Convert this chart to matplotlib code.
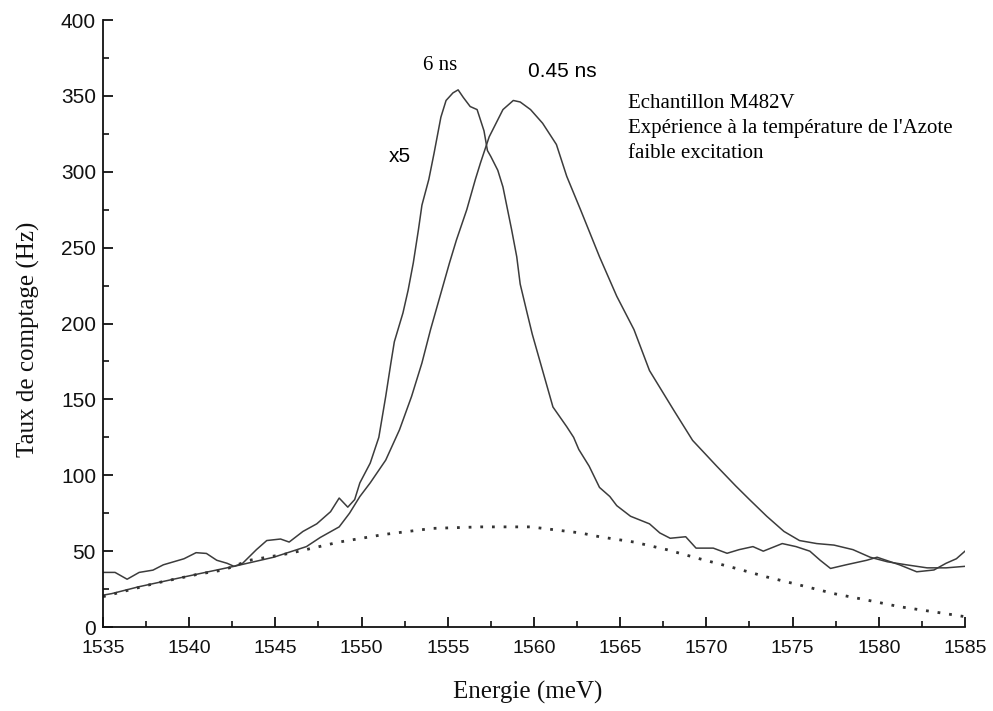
import numpy as np
import matplotlib.pyplot as plt
from matplotlib.ticker import MultipleLocator

# ---- courbe 6 ns (x5) ----
e_6ns = [1535.0, 1535.7, 1536.4, 1537.1, 1537.9, 1538.5, 1539.1, 1539.7, 1540.4, 1541.0,
         1541.6, 1542.2, 1542.6, 1543.1, 1543.9, 1544.5, 1545.3, 1545.8, 1546.6, 1547.4,
         1548.2, 1548.7, 1549.2, 1549.6, 1549.9, 1550.5, 1551.0, 1551.4, 1551.7, 1551.9,
         1552.4, 1552.7, 1553.0, 1553.3, 1553.5, 1553.9, 1554.2, 1554.6, 1554.9, 1555.3,
         1555.6, 1555.9, 1556.3, 1556.7, 1557.1, 1557.3, 1557.5, 1557.9, 1558.2, 1558.7,
         1559.0, 1559.2, 1559.6, 1559.9, 1560.5, 1561.1, 1561.9, 1562.3, 1562.6, 1563.2,
         1563.8, 1564.4, 1564.8, 1565.6, 1566.7, 1567.3, 1567.9, 1568.8, 1569.4, 1570.4,
         1571.2, 1571.9, 1572.7, 1573.3, 1574.4, 1575.2, 1576.0, 1576.6, 1577.2, 1578.1,
         1579.3, 1579.9, 1581.2, 1582.2, 1583.2, 1583.9, 1584.5, 1585.0]
taux_6ns = [36, 36, 31.5, 36, 37.5, 41, 43, 45, 49, 48.5,
            44, 42, 40, 42, 51, 57, 58, 56, 63, 68,
            76, 85, 79, 84, 95, 108, 125, 152, 174, 188,
            207, 222, 240, 262, 278, 295, 312, 336, 347, 352,
            354, 349, 343, 341, 327, 314, 310, 301, 290, 262,
            244, 226, 207, 193, 169, 145, 132, 125, 117, 106,
            92, 86, 80, 73, 68, 62, 58.5, 59.5, 52, 52,
            48.6, 51, 53, 50, 55, 53, 50, 44, 38.6, 41,
            44, 46, 41, 36.4, 37.6, 42, 45, 50]

# ---- courbe 0.45 ns ----
e_045 = [1535.0, 1535.5, 1537.1, 1539.7, 1542.6, 1544.9, 1546.8, 1547.6, 1548.7, 1549.3,
         1549.9, 1550.5, 1551.4, 1552.2, 1552.9, 1553.5, 1554.0, 1554.6, 1555.1, 1555.5,
         1556.1, 1556.6, 1556.9, 1557.4, 1558.2, 1558.8, 1559.2, 1559.8, 1560.5, 1561.3,
         1561.9, 1562.7, 1563.8, 1564.8, 1565.8, 1566.7, 1568.1, 1569.2, 1570.6, 1571.7,
         1572.5, 1573.5, 1574.5, 1575.4, 1576.4, 1577.4, 1578.5, 1579.5, 1580.5, 1581.6,
         1582.8, 1583.9, 1585.0]
taux_045 = [21, 22, 26.6, 33, 40, 46, 53, 59, 66, 75,
            86, 95, 110, 130, 152, 174, 196, 220, 240, 255,
            275, 295, 306, 323, 341, 347, 346, 341, 332, 318,
            297, 275, 244, 218, 196, 169, 143, 123, 106, 93,
            84, 73, 63, 57, 55, 54, 51, 46, 43, 41,
            39, 39, 40]

# ---- fond (pointille) ----
e_fond = [1535.0, 1538.1, 1540.6, 1542.0, 1543.5, 1545.8, 1548.7, 1551.3, 1554.1, 1556.9,
          1558.0, 1559.8, 1562.7, 1563.8, 1565.8, 1567.7, 1569.6, 1571.6, 1573.5, 1575.4,
          1577.4, 1579.3, 1581.2, 1583.2, 1584.9]
taux_fond = [20, 29, 35, 37.6, 44, 48.5, 56, 61, 65, 66,
             66, 66, 62, 59.5, 56, 51, 45, 39, 33, 27.7,
             22, 17.8, 13.4, 10, 7]

x_ticks = [1535, 1540, 1545, 1550, 1555, 1560, 1565, 1570, 1575, 1580, 1585]
y_ticks = [0, 50, 100, 150, 200, 250, 300, 350, 400]

serif = ['Liberation Serif', 'DejaVu Serif']
sans = ['Liberation Sans', 'DejaVu Sans']
gris = '#3c3c3c'

fig = plt.figure(figsize=(9.93, 7.11), dpi=100)
ax = fig.add_axes([0.1037, 0.1181, 0.8681, 0.8537])

ax.plot(e_6ns, taux_6ns, color=gris, lw=1.1)
ax.plot(e_045, taux_045, color=gris, lw=1.1)
ax.plot(e_fond, taux_fond, color='#333333', lw=2.0, linestyle=(0, (1, 3.2)))

ax.set_xlim(1535, 1585)
ax.set_ylim(0, 400)
ax.set_xticks(x_ticks)
ax.set_yticks(y_ticks)
ax.xaxis.set_minor_locator(MultipleLocator(2.5))
ax.yaxis.set_minor_locator(MultipleLocator(25))

for s in ['top', 'right']:
    ax.spines[s].set_visible(False)
for s in ['left', 'bottom']:
    ax.spines[s].set_linewidth(1.3)
    ax.spines[s].set_color('#111111')

ax.tick_params(which='major', direction='in', length=7, width=1.3, color='#111111')
ax.tick_params(which='minor', direction='in', length=4, width=1.2, color='#111111')
ax.tick_params(axis='y', pad=5)
ax.tick_params(axis='x', pad=9)
for lab in ax.get_yticklabels():
    lab.set_family(sans)
    lab.set_fontsize(15)
    lab.set_color('#111111')
for lab in ax.get_xticklabels():
    lab.set_family(sans)
    lab.set_fontsize(14)
    lab.set_color('#111111')

ax.set_xlabel("Energie (meV)", family=serif, fontsize=18, color='#111111')
ax.set_ylabel("Taux de comptage (Hz)", family=serif, fontsize=18, color='#111111')
ax.xaxis.set_label_coords(0.493, -0.107)
ax.yaxis.set_label_coords(-0.087, 0.474)
ax.xaxis.label.set_va('center')
ax.yaxis.label.set_va('center')

ax.text(1554.55, 370, "6 ns", family=serif, fontsize=15, ha='center', va='center')
ax.text(1561.65, 366, "0.45 ns", family=sans, fontsize=15, ha='center', va='center')
ax.text(1552.2, 310, "x5", family=sans, fontsize=15, ha='center', va='center')
ax.text(1565.45, 351,
        "Echantillon M482V\nExpérience à la température de l'Azote\nfaible excitation",
        family=serif, fontsize=15, ha='left', va='top', linespacing=1.4)

fig.savefig("out.png", dpi=100)
